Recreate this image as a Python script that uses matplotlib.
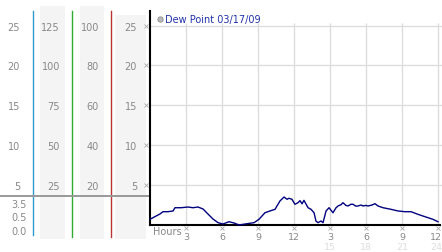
import matplotlib
matplotlib.use("Agg")
import matplotlib.pyplot as plt
from matplotlib.lines import Line2D

# 露点データ (時刻[h], 値)
hours = [0, 0.25, 0.83, 1.08, 1.5, 1.92, 2.08, 2.58, 3.17, 3.58,
         4.0, 4.42, 4.83, 5.25, 5.67, 6.08, 6.58, 7.0, 7.42, 8.08,
         8.67, 9.08, 9.58, 10.17, 10.42, 10.83, 11.17, 11.42, 11.58, 11.83,
         12.08, 12.33, 12.5, 12.67, 12.83, 13.17, 13.42, 13.67, 13.83, 14.0,
         14.25, 14.42, 14.67, 14.92, 15.25, 15.5, 15.67, 15.92, 16.08, 16.33,
         16.5, 16.75, 16.92, 17.17, 17.33, 17.58, 17.75, 18.0, 18.17, 18.5,
         18.75, 19.0, 19.42, 20.08, 20.67, 21.25, 21.75, 22.33, 23.0, 23.58,
         24.0]
dew_point = [0.65, 0.86, 1.32, 1.61, 1.61, 1.70, 2.11, 2.11, 2.20, 2.11,
             2.20, 1.95, 1.32, 0.69, 0.23, 0.06, 0.35, 0.19, -0.06, 0.10,
             0.23, 0.65, 1.48, 1.79, 1.91, 2.96, 3.46, 3.17, 3.3, 3.17,
             2.54, 2.74, 3.0, 2.6, 3.04, 2.11, 1.91, 1.48, 0.44, 0.23,
             0.44, 0.23, 1.70, 2.11, 1.48, 2.1, 2.33, 2.5, 2.74, 2.4,
             2.33, 2.55, 2.54, 2.3, 2.33, 2.45, 2.33, 2.4, 2.33, 2.45,
             2.62, 2.33, 2.11, 1.91, 1.70, 1.61, 1.61, 1.28, 0.94, 0.65,
             0.35]

y_ticks = [5, 10, 15, 20, 25]
col_labels = [
    ["5", "10", "15", "20", "25"],
    ["25", "50", "75", "100", "125"],
    ["20", "40", "60", "80", "100"],
    ["5", "10", "15", "20", "25"],
]
col_label_x = [20, 60, 99, 137]          # 右端(px)
low_labels = ["3.5", "0.5", "0.0"]
low_label_y = [205, 218, 232]

x_ticks = [3, 6, 9, 12, 15, 18, 21, 24]
x_labels = ["3", "6", "9", "12", "3", "6", "9", "12"]
x_labels2 = ["15", "18", "21", "24"]

W, H = 442, 253
GRAY = "#888888"


def main():
    fig = plt.figure(figsize=(W / 100, H / 100), dpi=100)

    # 背景 (px座標)
    bg = fig.add_axes([0, 0, 1, 1], zorder=0)
    bg.set_xlim(0, W)
    bg.set_ylim(H, 0)
    bg.axis("off")
    for x0, x1, y0 in [(40, 65, 7), (80, 104, 7), (115, 146, 16)]:
        bg.add_patch(plt.Rectangle((x0, y0), x1 - x0, 240 - y0, color="#f4f4f4", lw=0))
    bg.plot([33, 33], [12, 236], color="#3399cc", lw=1)
    bg.plot([72, 72], [12, 238], color="#33aa33", lw=1)
    bg.plot([111, 111], [12, 238], color="#bb3333", lw=1)
    bg.plot([0, 149], [197, 197], color="#999999", lw=1.4)
    for lab, y in zip(low_labels, low_label_y):
        bg.text(27, y, lab, ha="right", va="center", fontsize=7, color=GRAY)

    # メイン
    y0_px, top_px, ppu = 225.5, 12, 7.95
    rect = [150 / W, (H - y0_px) / H, (W - 150) / W, (y0_px - top_px) / H]
    ymax = (y0_px - top_px) / ppu
    ax = fig.add_axes(rect, zorder=1)
    ax.set_facecolor("none")
    ax.set_xlim(0, (W - 150) / 12)
    ax.set_ylim(0, ymax)

    ax.hlines(y_ticks, 0, (W - 150) / 12, color="#dddddd", lw=1, zorder=1)
    ax.vlines(x_ticks, 0, (y0_px - 24) / ppu, color="#dddddd", lw=1, zorder=1)
    ax.plot(hours, dew_point, color="#000080", lw=1, zorder=3, clip_on=False)

    for s in ["top", "right"]:
        ax.spines[s].set_visible(False)
    ax.spines["left"].set_linewidth(1.5)
    ax.spines["bottom"].set_linewidth(1.5)
    ax.spines["bottom"].set_bounds(0, 24.2)

    ax.set_yticks([])
    ax.set_xticks(x_ticks)
    # 最後のラベルは右端で切れないように少し左へ
    ax.set_xticklabels(x_labels[:-1] + [""])
    ax.tick_params(axis="x", length=0, pad=5.5, labelsize=6.8, labelcolor=GRAY)

    # 目盛りの小さな印
    ax.plot([-0.33] * len(y_ticks), y_ticks, "x", ms=2.5, mew=0.6, color="#aaaaaa", clip_on=False)
    ax.plot(x_ticks, [-0.5] * len(x_ticks), "x", ms=2.5, mew=0.6, color="#aaaaaa", clip_on=False)

    tr = ax.get_xaxis_transform()
    span = y0_px - top_px
    ax.text(23.82, -(237.5 - y0_px) / span, x_labels[-1], transform=tr,
            ha="center", va="center", fontsize=6.8, color=GRAY)
    ax.text(0.25, -(232 - y0_px) / span, "Hours", transform=tr,
            ha="left", va="center", fontsize=7, color=GRAY)
    for x, lab in zip(x_ticks[4:], x_labels2):
        ax.text(min(x, 23.82), -(248 - y0_px) / span, lab, transform=tr,
                ha="center", va="center", fontsize=6.8, color="#dddddd")

    # 左側の目盛り列
    for labs, xr in zip(col_labels, col_label_x):
        c = fig.add_axes([xr / W, rect[1], 0.0001, rect[3]], zorder=2)
        c.set_ylim(0, ymax)
        c.set_xticks([])
        c.set_yticks(y_ticks)
        c.set_yticklabels(labs)
        c.tick_params(axis="y", length=0, pad=0, labelsize=7, labelcolor=GRAY)
        c.set_facecolor("none")
        for s in c.spines.values():
            s.set_visible(False)

    # 凡例
    handle = Line2D([], [], ls="", marker="o", ms=3.8, mfc="#bbbbbb", mec="#888888", mew=0.6)
    ax.legend([handle], ["Dew Point 03/17/09"], loc="upper left",
              bbox_to_anchor=(157.5, 15.0), bbox_transform=bg.transData,
              frameon=False, fontsize=7, labelcolor="#2233aa",
              handlelength=0.55, handletextpad=0.2, borderpad=0, borderaxespad=0)

    fig.savefig("out.png", dpi=100)


if __name__ == "__main__":
    main()
